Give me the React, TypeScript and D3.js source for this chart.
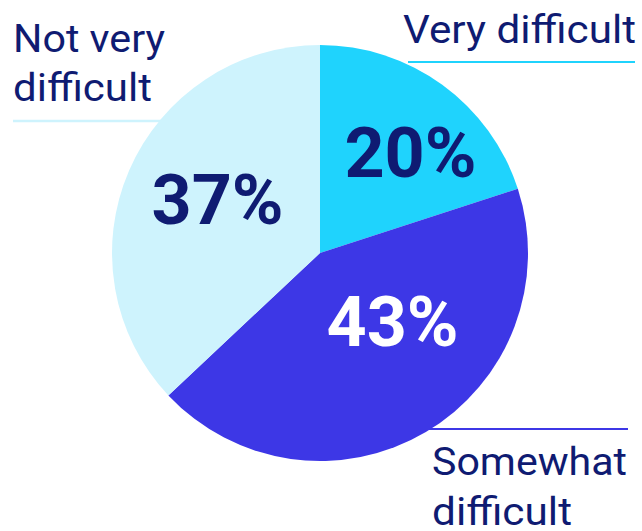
import React from "react";
import * as d3 from "d3";

const categories = ["Very difficult", "Somewhat difficult", "Not very difficult"];
const values = [20, 43, 37];
const labelLines = [["Very difficult"], ["Somewhat", "difficult"], ["Not very", "difficult"]];
const labelWidths = [[233], [195, 140], [152, 139]];
const colors = ["#1fd3fd", "#3d37e6", "#cef3fd"];
const pctColors = ["#0f1b72", "#ffffff", "#0f1b72"];
// polar placement of percent labels (fraction of radius, angle shift in degrees)
const pctRadius = [0.65, 0.48, 0.555];
const pctShift = [6, -16, 4];

const W = 642, H = 531;
const cx = 320, cy = 253, R = 208;

export default function App() {
  const pie = d3.pie<number>().sort(null).value((d) => d);
  const arcs = pie(values);
  const arc = d3.arc<d3.PieArcDatum<number>>().innerRadius(0).outerRadius(R);
  const textProps = { fill: "#0f1b72", fontSize: 38, lengthAdjust: "spacingAndGlyphs" as const };
  return (
    <svg width={W} height={H} style={{ position: "absolute", left: 0, top: 0, background: "#fff" }}
      fontFamily="Roboto, sans-serif">
      {/* leader lines */}
      <line x1={408} x2={635} y1={62} y2={62} stroke={colors[0]} strokeWidth={2} />
      <line x1={425} x2={628} y1={429} y2={429} stroke={colors[1]} strokeWidth={2} />
      <line x1={13} x2={170} y1={121} y2={121} stroke={colors[2]} strokeWidth={2.5} />
      <g transform={`translate(${cx},${cy})`}>
        {arcs.map((a, i) => (
          <path key={i} d={arc(a) as string} fill={colors[i]} />
        ))}
        {arcs.map((a, i) => {
          const ang = (a.startAngle + a.endAngle) / 2 + (pctShift[i] * Math.PI) / 180;
          const r = R * pctRadius[i];
          const x = r * Math.sin(ang);
          const y = -r * Math.cos(ang);
          return (
            <text key={"p" + i} x={x} y={y} textAnchor="middle" dominantBaseline="central"
              fill={pctColors[i]} fontWeight={700} fontSize={70}>
              {values[i]}%
            </text>
          );
        })}
      </g>
      <text x={403} y={43} textLength={labelWidths[0][0]} {...textProps}>{labelLines[0][0]}</text>
      {labelLines[1].map((t, j) => (
        <text key={"s" + j} x={432} y={475 + j * 50} textLength={labelWidths[1][j]} {...textProps}>{t}</text>
      ))}
      {labelLines[2].map((t, j) => (
        <text key={"n" + j} x={13} y={52 + j * 49} textLength={labelWidths[2][j]} {...textProps}>{t}</text>
      ))}
    </svg>
  );
}
